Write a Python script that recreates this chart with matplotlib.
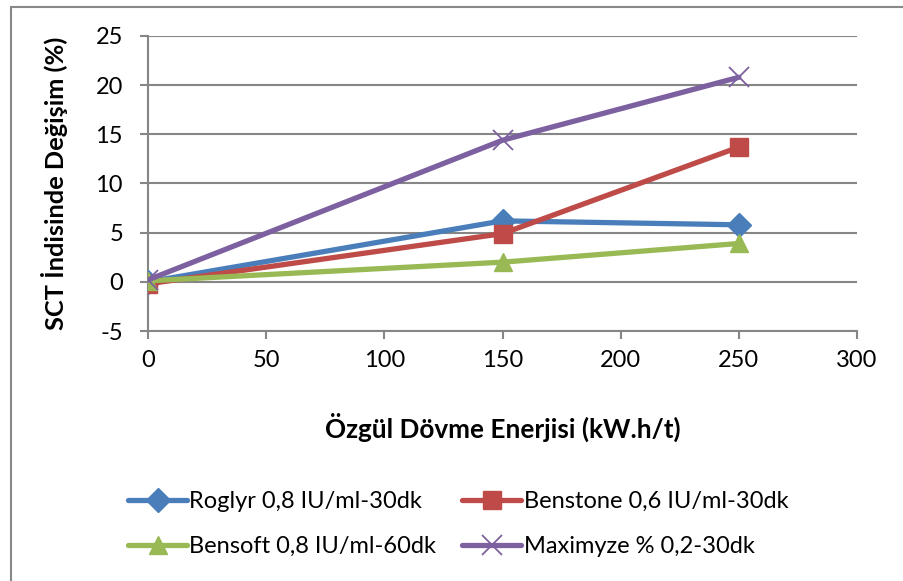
import matplotlib
matplotlib.use("Agg")
import matplotlib.pyplot as plt
from matplotlib.patches import Rectangle

x_vals = [0, 150, 250]
roglyr = [0.0, 6.2, 5.8]
benstone = [-0.2, 4.9, 13.7]
bensoft = [0.1, 2.0, 3.9]
maximyze = [0.2, 14.4, 20.8]

labels = ["Roglyr 0,8 IU/ml-30dk", "Benstone 0,6 IU/ml-30dk",
          "Bensoft 0,8 IU/ml-60dk", "Maximyze % 0,2-30dk"]
colors = ["#4A7EBB", "#BE4B48", "#98B954", "#7D60A0"]
markers = ["D", "s", "^", "x"]
xticks = [0, 50, 100, 150, 200, 250, 300]
yticks = [-5, 0, 5, 10, 15, 20, 25]

plt.rcParams['font.family'] = ['Lato', 'DejaVu Sans']
plt.rcParams['axes.unicode_minus'] = False

fig = plt.figure(figsize=(9.04, 5.81), dpi=100)
W, H = 904, 581
fig.patches.append(Rectangle((11 / W, -0.1), 1.2, 1 - 7 / H + 0.1, transform=fig.transFigure,
                             fill=False, edgecolor="#888888", linewidth=1.5))

ax = fig.add_axes([148 / W, 1 - 331 / H, (857 - 148) / W, (331 - 36) / H])
series = [roglyr, benstone, bensoft, maximyze]
msizes = [12, 13, 13.5, 14]
handles = []
for ys, c, m, ms, lab in zip(series, colors, markers, msizes, labels):
    h, = ax.plot(x_vals, ys, color=c, lw=3.8, marker=m, ms=ms,
                 mew=1.3 if m == "x" else 1.0,
                 label=lab, solid_capstyle="round", zorder=3)
    handles.append(h)

ax.set_xlim(0, 300)
ax.set_ylim(-5, 25)
ax.set_xticks(xticks)
ax.set_yticks(yticks)
ax.yaxis.grid(True, color="#868686", linewidth=1.5)
ax.set_axisbelow(True)
for s in ["top", "right"]:
    ax.spines[s].set_visible(False)
for s in ["left", "bottom"]:
    ax.spines[s].set_color("#868686")
    ax.spines[s].set_linewidth(1.5)
ax.tick_params(axis="both", colors="#868686", labelcolor="black", labelsize=17,
               length=6, width=1.5)
ax.tick_params(axis="x", pad=8)
ax.tick_params(axis="y", pad=12)
ax.set_xlabel("Özgül Dövme Enerjisi (kW.h/t)", fontsize=18.8, fontweight="bold", labelpad=30)
ax.set_ylabel("SCT İndisinde Değişim (%)", fontsize=18.3, fontweight="bold", labelpad=20)

order = [0, 2, 1, 3]
leg = fig.legend([handles[i] for i in order], [labels[i] for i in order], ncol=2,
                 loc="center left", bbox_to_anchor=(128 / W, 1 - 524 / H),
                 frameon=False, fontsize=17, handlelength=2.5, handletextpad=0.1,
                 columnspacing=1.1, labelspacing=1.0, borderaxespad=0, borderpad=0)

fig.savefig("out.png", dpi=100)
